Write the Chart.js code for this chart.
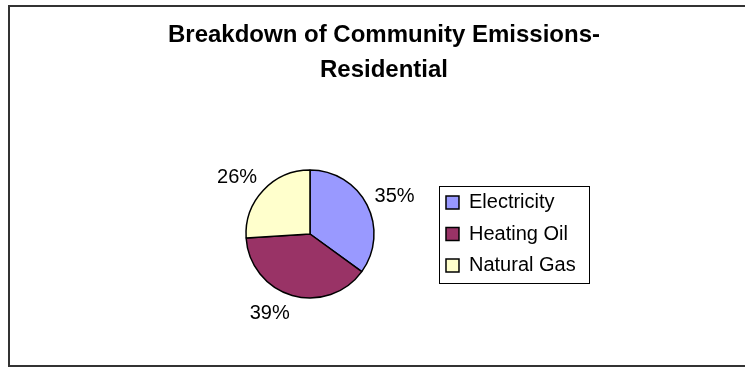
<!DOCTYPE html>
<html>
<head>
<meta charset="utf-8">
<title>Breakdown of Community Emissions - Residential</title>
<script src="https://cdn.jsdelivr.net/npm/chart.js@4"></script>
<style>
    body { margin: 0; background: #fff; overflow: hidden; }
    #wrap { position: relative; width: 745px; height: 367px; overflow: hidden; }
    #frame {
        position: absolute; left: 8px; top: 5px; width: 800px; height: 362px;
        box-sizing: border-box; border: 2px solid #333;
    }
    #chart { position: absolute; left: 0; top: 0; }
</style>
</head>
<body>
<div id="wrap">
    <div id="frame"></div>
    <canvas id="chart" width="745" height="367"></canvas>
</div>
<script>
// Données
const titleLines = ['Breakdown of Community Emissions-', 'Residential'];
const categories = ['Electricity', 'Heating Oil', 'Natural Gas'];
const shares = [35, 39, 26];
const sliceColors = ['#9999FF', '#993366', '#FFFFCC'];

const FONT = "'Liberation Sans', Arial, sans-serif";

// Titre sur deux lignes, centré au-dessus du graphique
const titlePlugin = {
    id: 'excelTitle',
    afterDraw(chart) {
        const ctx = chart.ctx;
        ctx.save();
        ctx.font = 'bold 24px ' + FONT;
        ctx.fillStyle = '#000';
        ctx.textAlign = 'center';
        ctx.textBaseline = 'middle';
        titleLines.forEach((line, i) => ctx.fillText(line, 384, 35.7 + i * 34.3));
        ctx.restore();
    }
};

// Pourcentages à l'extérieur de chaque part
const pieLabels = {
    id: 'pieLabels',
    afterDatasetsDraw(chart) {
        const ctx = chart.ctx;
        const meta = chart.getDatasetMeta(0);
        const values = chart.data.datasets[0].data;
        const total = values.reduce((a, b) => a + b, 0);
        ctx.save();
        ctx.font = '20px ' + FONT;
        ctx.fillStyle = '#000';
        ctx.textBaseline = 'middle';
        meta.data.forEach((arc, i) => {
            const p = arc.getProps(['x', 'y', 'startAngle', 'endAngle', 'outerRadius'], true);
            const mid = (p.startAngle + p.endAngle) / 2;
            const d = p.outerRadius + 8.5;
            const cx = Math.cos(mid), sy = Math.sin(mid);
            const tx = p.x + cx * d;
            const ty = p.y + sy * d + sy * 10;
            ctx.textAlign = cx >= 0 ? 'left' : 'right';
            ctx.fillText(Math.round(values[i] / total * 100) + '%', tx, ty);
        });
        ctx.restore();
    }
};

// Cadre autour de la légende
const legendFrame = {
    id: 'legendFrame',
    afterDraw(chart) {
        const boxes = chart.legend && chart.legend.legendHitBoxes;
        if (!boxes || !boxes.length) return;
        const left = Math.min(...boxes.map(b => b.left)) - 7;
        const top = Math.min(...boxes.map(b => b.top)) - 7;
        const right = Math.max(...boxes.map(b => b.left + b.width)) + 13;
        const bottom = Math.max(...boxes.map(b => b.top + b.height)) + 7;
        const ctx = chart.ctx;
        ctx.save();
        ctx.strokeStyle = '#000';
        ctx.lineWidth = 1;
        ctx.strokeRect(Math.round(left) + 0.5, Math.round(top) + 0.5,
            Math.round(right - left), Math.round(bottom - top));
        ctx.restore();
    }
};

new Chart(document.getElementById('chart'), {
    type: 'pie',
    data: {
        labels: categories,
        datasets: [{
            data: shares,
            backgroundColor: sliceColors,
            borderColor: '#000',
            borderWidth: 1.5,
            radius: 64
        }]
    },
    options: {
        responsive: false,
        animation: false,
        layout: { padding: { top: 101, bottom: 0, left: 185.5, right: 159.3 } },
        plugins: {
            title: { display: false },
            tooltip: { enabled: false },
            legend: {
                position: 'right',
                fullSize: false,
                labels: {
                    boxWidth: 13,
                    boxHeight: 13,
                    padding: 11.5,
                    color: '#000',
                    font: { family: FONT, size: 20 }
                }
            }
        }
    },
    plugins: [pieLabels, legendFrame, titlePlugin]
});
</script>
</body>
</html>
